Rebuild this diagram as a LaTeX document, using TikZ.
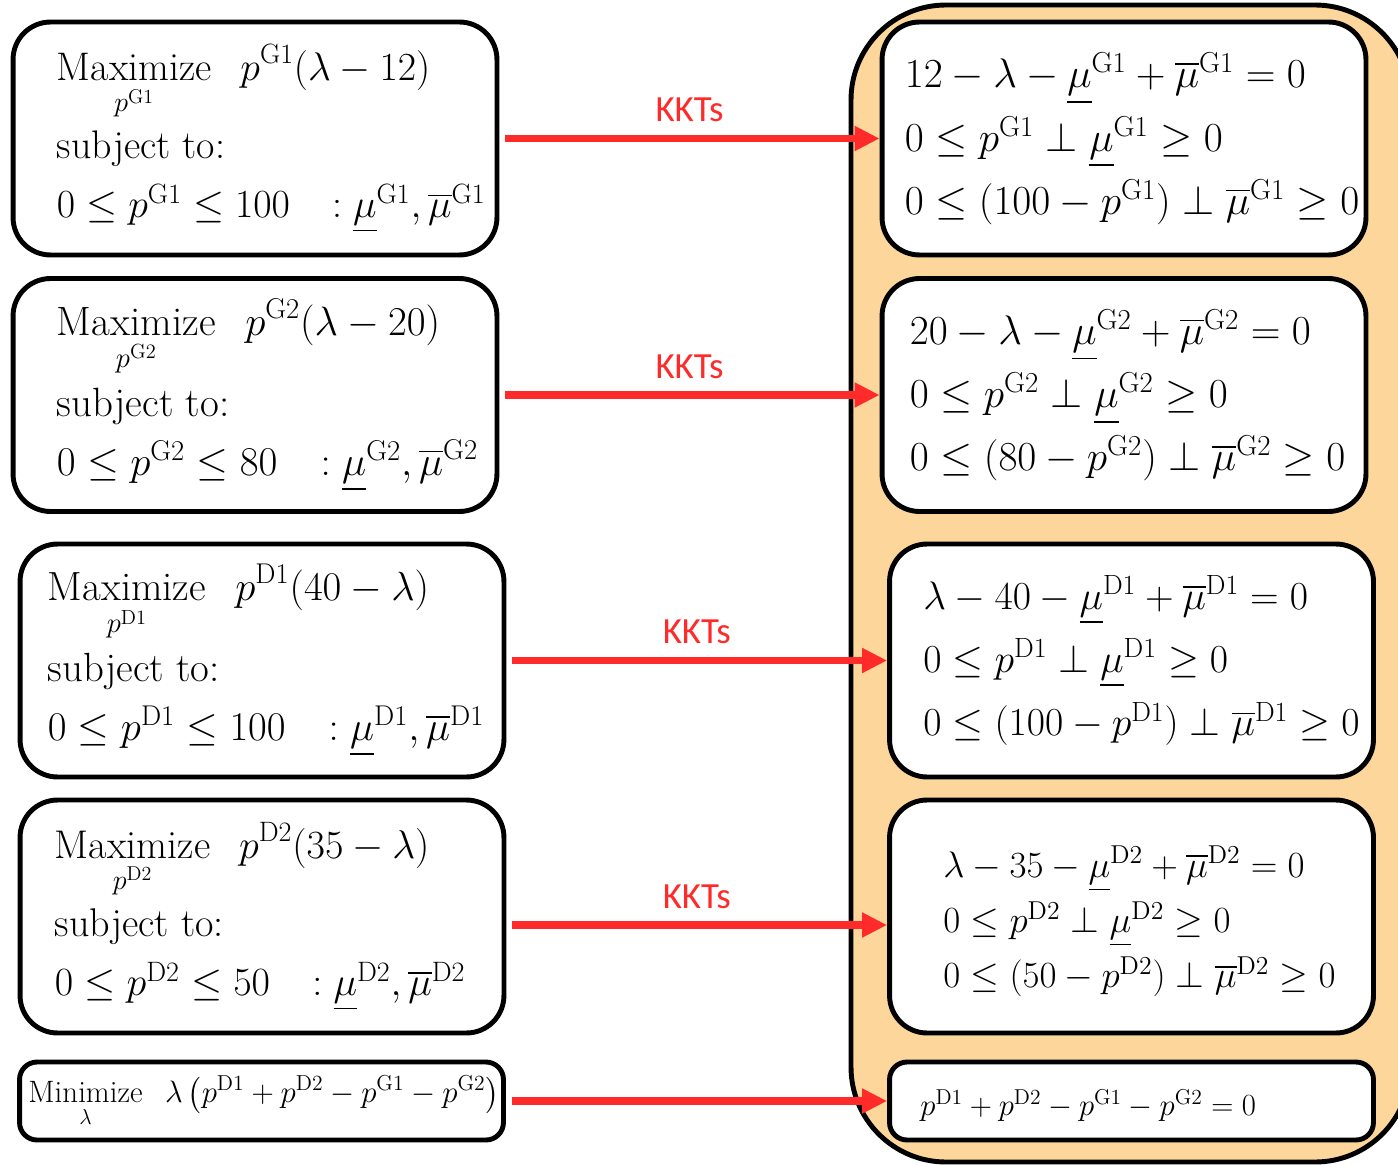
\RequirePackage{fix-cm}
\documentclass[tikz,border=0pt]{standalone}
\usepackage{amsmath}
\usepackage{fontspec}
\newfontfamily\kktsans{Carlito}
\usetikzlibrary{arrows.meta}
\definecolor{PanelOrange}{HTML}{FDD69B}
\definecolor{KKTRed}{HTML}{FF2B2B}
\newcommand{\pu}[1]{p^{\mathrm{#1}}}
\newcommand{\mul}[1]{\underline{\mu}^{\mathrm{#1}}}
\newcommand{\muu}[1]{\overline{\mu}^{\mathrm{#1}}}
\newcommand{\maxover}[1]{\mathop{\mathrm{Maximize}}_{\rule{0pt}{14pt}\pu{#1}}}

\begin{document}
\begin{tikzpicture}[x=0.02cm, y=-0.02cm,
  probbox/.style={draw=black, line width=2.8pt, rounded corners=0.75cm, fill=white, minimum width=9.68cm, minimum height=4.66cm},
  smallbox/.style={probbox, rounded corners=0.35cm, minimum height=1.56cm},
  probtext/.style={anchor=west, inner sep=0pt, align=left, font=\fontsize{22.7}{33.6}\selectfont},
  kkttext/.style={anchor=west, inner sep=0pt, align=left, font=\fontsize{23.5}{36}\selectfont},
  kktarrow/.style={draw=KKTRed, line width=4pt, shorten <=0.12cm, -{Triangle[length=0.5cm, width=0.47cm]}},
  kktlabel/.style={above=0.14cm, text=KKTRed, font=\kktsans\fontsize{21}{24}\selectfont}]
  \useasboundingbox (0,0) rectangle (1398,1165);

  % orange panel behind the KKT boxes
  \draw[line width=2.8pt, fill=PanelOrange, rounded corners=1.9cm] (851,5) rectangle (1410,1162);

  % lower-level problems
  \node[probbox] (g1) at (255,138.5) {};
  \node[probbox] (g2) at (255,395) {};
  \node[probbox] (d1) at (262,660.5) {};
  \node[probbox] (d2) at (262,916.5) {};
  \node[smallbox] (mc) at (261.5,1101) {};

  % KKT conditions
  \node[probbox] (k1) at (1124,138.5) {};
  \node[probbox] (k2) at (1124,395) {};
  \node[probbox] (k3) at (1131.5,660.5) {};
  \node[probbox] (k4) at (1131.5,916.5) {};
  \node[smallbox] (k5) at (1131.5,1101) {};

  \node[probtext] (g1t) at ([xshift=0.92cm]g1.west) {$\displaystyle\maxover{G1}\;\; \pu{G1}(\lambda-12)$\\[5pt]
    subject to:\\
    $0\leq \pu{G1}\leq 100\enspace\;:\mul{G1},\muu{G1}$};
  \node[probtext, font=\fontsize{23.3}{33.6}\selectfont] (g2t) at ([xshift=0.92cm]g2.west) {$\displaystyle\maxover{G2}\;\; \pu{G2}(\lambda-20)$\\[5pt]
    subject to:\\
    $0\leq \pu{G2}\leq 80\enspace\;:\mul{G2},\muu{G2}$};
  \node[probtext, font=\fontsize{23.2}{33.6}\selectfont] (d1t) at ([xshift=0.6cm]d1.west) {$\displaystyle\maxover{D1}\;\; \pu{D1}(40-\lambda)$\\[5pt]
    subject to:\\
    $0\leq \pu{D1}\leq 100\enspace\;:\mul{D1},\muu{D1}$};
  \node[probtext, font=\fontsize{22.8}{33.6}\selectfont] (d2t) at ([xshift=0.74cm]d2.west) {$\displaystyle\maxover{D2}\;\; \pu{D2}(35-\lambda)$\\[5pt]
    subject to:\\
    $0\leq \pu{D2}\leq 50\enspace\;:\mul{D2},\muu{D2}$};
  \node[probtext, font=\fontsize{17.6}{21}\selectfont] (mct) at ([xshift=0.22cm]mc.west) {$\displaystyle\mathop{\mathrm{Minimize}}_{\rule{0pt}{9pt}\lambda}\;\; \lambda\,\bigl(\pu{D1}+\pu{D2}-\pu{G1}-\pu{G2}\bigr)$};

  \node[kkttext] (k1t) at ([xshift=0.5cm]k1.west) {$12-\lambda-\mul{G1}+\muu{G1}=0$\\
    $0\leq \pu{G1}\perp\mul{G1}\geq 0$\\
    $0\leq (100-\pu{G1})\perp\muu{G1}\geq 0$};
  \node[kkttext] (k2t) at ([xshift=0.6cm]k2.west) {$20-\lambda-\mul{G2}+\muu{G2}=0$\\
    $0\leq \pu{G2}\perp\mul{G2}\geq 0$\\
    $0\leq (80-\pu{G2})\perp\muu{G2}\geq 0$};
  \node[kkttext, font=\fontsize{22.6}{36}\selectfont] (k3t) at ([xshift=0.72cm]k3.west) {$\lambda-40-\mul{D1}+\muu{D1}=0$\\
    $0\leq \pu{D1}\perp\mul{D1}\geq 0$\\
    $0\leq (100-\pu{D1})\perp\muu{D1}\geq 0$};
  \node[kkttext, font=\fontsize{21}{31.5}\selectfont] (k4t) at ([xshift=1.12cm, yshift=-0.1cm]k4.west) {$\lambda-35-\mul{D2}+\muu{D2}=0$\\
    $0\leq \pu{D2}\perp\mul{D2}\geq 0$\\
    $0\leq (50-\pu{D2})\perp\muu{D2}\geq 0$};
  \node[kkttext, font=\fontsize{17.5}{20}\selectfont] (k5t) at ([xshift=0.66cm, yshift=-0.08cm]k5.west) {$\pu{D1}+\pu{D2}-\pu{G1}-\pu{G2}=0$};

  % KKT arrows
  \draw[kktarrow] (g1.east) -- node[kktlabel]{KKTs} (k1.west);
  \draw[kktarrow] (g2.east) -- node[kktlabel]{KKTs} (k2.west);
  \draw[kktarrow] (d1.east) -- node[kktlabel]{KKTs} (k3.west);
  \draw[kktarrow] ([yshift=-0.17cm]d2.east) -- node[kktlabel]{KKTs} ([yshift=-0.17cm]k4.west);
  \draw[kktarrow] (mc.east) -- (k5.west);
\end{tikzpicture}
\end{document}
